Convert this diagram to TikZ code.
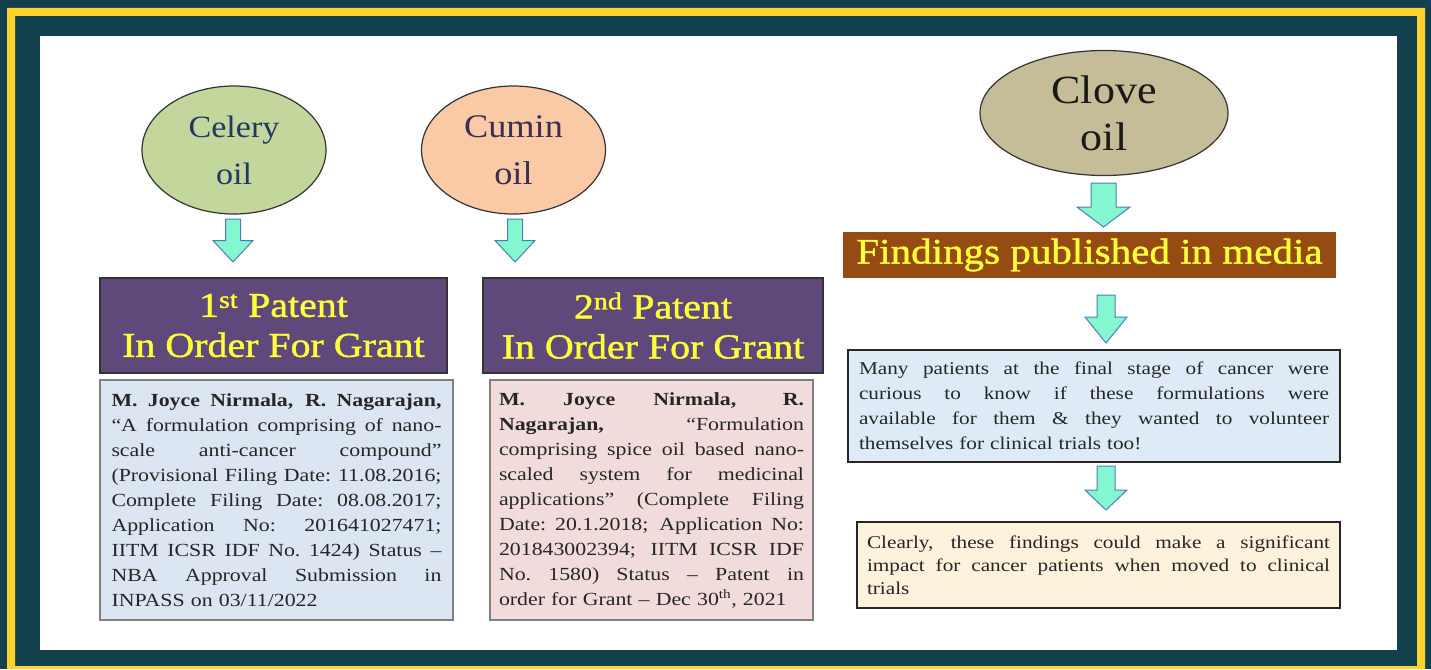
\documentclass[tikz,border=0pt]{standalone}
\usepackage{fontspec}
\setmainfont{Liberation Serif}[FakeStretch=1.1]
\newfontfamily\headfont{Liberation Serif}[Ligatures=TeX, FakeStretch=1.14, FakeBold=1.2]
\newfontfamily\wideserif{Liberation Serif}[Ligatures=TeX, FakeStretch=1.18]
\usetikzlibrary{shapes.geometric}
\setlength\parindent{0pt}
\definecolor{frameteal}{HTML}{12414D}
\definecolor{frameyel}{HTML}{FDD22B}
\definecolor{celeryfill}{HTML}{C3D69B}
\definecolor{cuminfill}{HTML}{FAC9A6}
\definecolor{clovefill}{HTML}{C4BD97}
\definecolor{arrfill}{HTML}{84F7D0}
\definecolor{arredge}{HTML}{4A7EBB}
\definecolor{patpurple}{HTML}{5F497A}
\definecolor{titleyel}{HTML}{FFFF3A}
\definecolor{brownbar}{HTML}{964B12}
\definecolor{boxonefill}{HTML}{DCE6F2}
\definecolor{boxtwofill}{HTML}{F2DCDB}
\definecolor{manyfill}{HTML}{DEEBF7}
\definecolor{clearfill}{HTML}{FDF3DD}
\definecolor{bodytext}{HTML}{262626}
\definecolor{celerytext}{HTML}{1F3864}
\definecolor{cumintext}{HTML}{3B2E4F}
\newlength\jlw
\newcommand\jl[1]{\leavevmode\hbox to \jlw{\spaceskip=0.25em plus 1fil\relax\xspaceskip=\spaceskip #1}\\}
\newcommand\blockarr[7]{%
  \begin{scope}[shift={(#1,#2)}]
    \draw[barrow] (-#6,#3) -- (#6,#3) -- (#6,#4) -- (#7,#4) -- (0,#5) -- (-#7,#4) -- (-#6,#4) -- cycle;
  \end{scope}}
\begin{document}
\begin{tikzpicture}[x=1pt,y=-1pt,
  every node/.style={inner sep=0pt},
  oval/.style={ellipse, draw=black!80, line width=1.2pt, align=center},
  title/.style={draw=black!80, line width=1.5pt, fill=patpurple, text=titleyel, align=center,
    font=\headfont\fontsize{35}{40}\selectfont, minimum height=95},
  para/.style={draw=black!50, line width=1.3pt, text=bodytext, align=left,
    font=\wideserif\fontsize{18.5}{25}\selectfont, minimum height=240},
  parb/.style={draw=black!85, line width=2.2pt, text=bodytext, align=left,
    font=\wideserif\fontsize{18}{25}\selectfont},
  barrow/.style={fill=arrfill, draw=arredge, line width=1pt, line join=miter}]
\useasboundingbox (0,0) rectangle (1431,669);
\fill[frameteal] (0,0) rectangle (1431,669);
\fill[frameyel, even odd rule] (7,8) rectangle (1425,669) (15,16) rectangle (1417,666);
\fill[white] (40,36) rectangle (1397,650);

% ovals
\node[oval, fill=celeryfill, minimum width=184, minimum height=128, text=celerytext,
  font=\fontsize{31}{47}\selectfont] (celery) at (234,150) {Celery\\oil};
\node[oval, fill=cuminfill, minimum width=184, minimum height=128, text=cumintext,
  font=\fontsize{33}{47}\selectfont] (cumin) at (513.5,150) {Cumin\\oil};
\node[oval, fill=clovefill, minimum width=248, minimum height=125, text=black!90,
  font=\fontsize{40}{47}\selectfont] (clove) at (1104,113) {Clove\\oil};

% block arrows
\blockarr{233}{240.5}{-21.5}{0}{21.5}{7.5}{20}
\blockarr{515}{240.5}{-21.5}{0}{21.5}{7.5}{20}
\blockarr{1103.5}{205}{-22}{2}{22}{12.5}{26.5}
\blockarr{1106}{319}{-24}{-2}{24}{9}{21}
\blockarr{1106}{488}{-22}{2}{22}{9}{21}

% patent titles
\node[title, minimum width=347] (p1) at (273.5,325.5) {1\textsuperscript{st} Patent\\In Order For Grant};
\node[title, minimum width=340] (p2) at (653,325.5) {2\textsuperscript{nd} Patent\\In Order For Grant};

% patent details
\setlength\jlw{330pt}
\node[para, fill=boxonefill, minimum width=353, text width=330] (t1) at (276.5,500) {%
\jl{\textbf{M. Joyce Nirmala, R. Nagarajan,}}
\jl{``A formulation comprising of nano-}
\jl{scale anti-cancer compound''}
\jl{(Provisional Filing Date: 11.08.2016;}
\jl{Complete Filing Date: 08.08.2017;}
\jl{Application No: 201641027471;}
\jl{IITM ICSR IDF No. 1424) Status --}
\jl{NBA Approval Submission in}
INPASS on 03/11/2022};
\setlength\jlw{305pt}
\node[para, fill=boxtwofill, minimum width=323, text width=305] (t2) at (651.5,500) {%
\jl{\textbf{M. Joyce Nirmala, R.}}
\jl{\textbf{Nagarajan,} ``Formulation}
\jl{comprising spice oil based nano-}
\jl{scaled system for medicinal}
\jl{applications'' (Complete Filing}
\jl{Date: 20.1.2018; Application No:}
\jl{201843002394; IITM ICSR IDF}
\jl{No. 1580) Status -- Patent in}
order for Grant -- Dec 30\textsuperscript{th}, 2021};

% right column
\node[fill=brownbar, text=titleyel, minimum width=493, minimum height=46,
  font=\headfont\fontsize{36}{40}\selectfont] (find) at (1089.5,255) {Findings published in media};
\setlength\jlw{470pt}
\node[parb, fill=manyfill, minimum width=492, minimum height=112, text width=470] (many) at (1094,406) {%
\jl{Many patients at the final stage of cancer were}
\jl{curious to know if these formulations were}
\jl{available for them \& they wanted to volunteer}
themselves for clinical trials too!};
\setlength\jlw{463pt}
\node[parb, fill=clearfill, minimum width=483, minimum height=86, text width=463,
  font=\wideserif\fontsize{18}{23}\selectfont] (clear) at (1098.5,565) {%
\jl{Clearly, these findings could make a significant}
\jl{impact for cancer patients when moved to clinical}
trials};
\end{tikzpicture}
\end{document}
